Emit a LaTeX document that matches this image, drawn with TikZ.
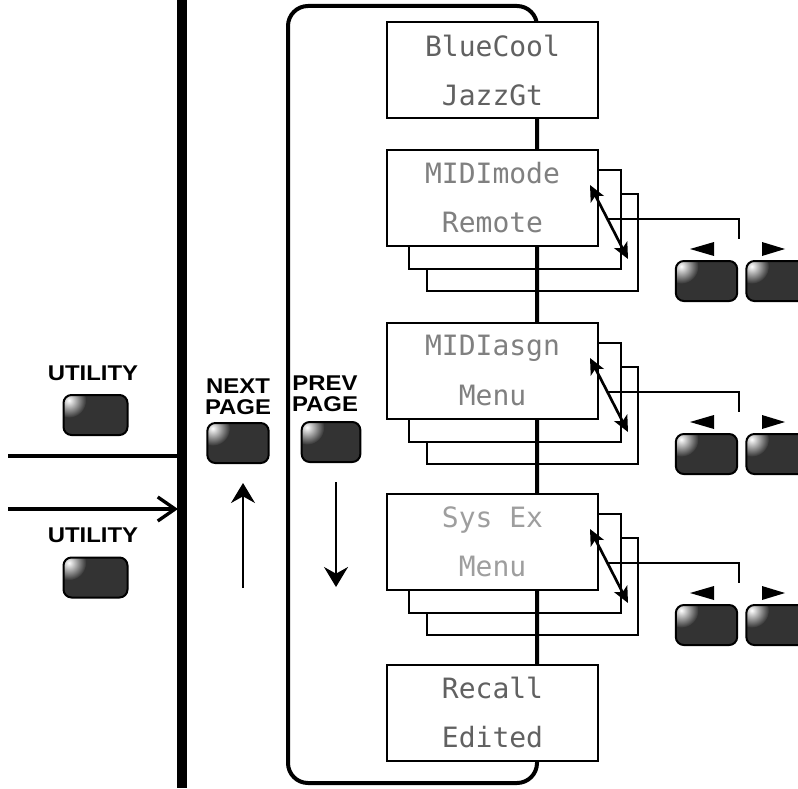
\documentclass[tikz,border=0pt]{standalone}
\usepackage{fontspec}
\setmainfont{Liberation Sans}
\newfontfamily\lcdfont{DejaVu Sans Mono}
\newfontfamily\keyfont{Liberation Sans}[FakeStretch=1.12]
\usetikzlibrary{arrows.meta}

\tikzset{
  display/.style={draw, line width=1.5pt, fill=white, minimum width=158.25pt, minimum height=72pt,
    inner sep=0pt, align=center, font=\lcdfont\fontsize{21}{37}\selectfont},
  ghost/.style={draw, line width=1.5pt, fill=white},
  keycap/.style={draw, line width=1.5pt, rounded corners=6pt, minimum width=46pt, minimum height=30pt,
    path picture={\fill[black!80] (path picture bounding box.south west) rectangle (path picture bounding box.north east);
      \shade[inner color=white, outer color=black!80] ([xshift=4pt,yshift=-4pt]path picture bounding box.north west) circle (13pt);}},
  keylabel/.style={font=\keyfont\bfseries\fontsize{16}{21}\selectfont, align=center, inner sep=0pt},
  wire/.style={line width=1.5pt},
  swap/.style={line width=2pt, {Stealth[length=12pt,width=11pt,inset=3pt]}-{Stealth[length=12pt,width=11pt,inset=3pt]}},
  pager/.style={line width=1.5pt, -{Stealth[length=15pt,width=18pt,inset=5pt]}},
}

\begin{document}
\begin{tikzpicture}[x=0.75pt,y=0.75pt,yscale=-1,xscale=1]
    \useasboundingbox (0,0) rectangle (798,788);
    % main bar and utility lines
    \draw[line width=7pt] (182,0) -- (182,788);
    \coordinate (barA) at (182,456);
    \coordinate (barB) at (178,509);
    \coordinate (inA) at (8,456);
    \coordinate (inB) at (8,509);
    \draw[line width=3.5pt] (inA) -- (barA);
    \draw[line width=3.5pt, -{Straight Barb[length=13pt,width=18pt,line width=2.5pt]}] (inB) -- (barB);
    % Text Node
    \node[keylabel, anchor=base] (util1) at (93,380) {UTILITY};
    \node[keycap, minimum width=48pt] (ukey1) at (95.5,415) {};
    \node[keylabel, anchor=base] (util2) at (93,542) {UTILITY};
    \node[keycap, minimum width=48pt] (ukey2) at (95.5,577.5) {};
    % page keys
    \node[keylabel, anchor=base] (nextlbl) at (238,393) {NEXT};
    \node[keylabel, anchor=base] (nextlbl2) at (238,414) {PAGE};
    \node[keycap] (nextkey) at (238,443) {};
    \node[keylabel, anchor=base] (prevlbl) at (325,390) {PREV};
    \node[keylabel, anchor=base] (prevlbl2) at (325,411) {PAGE};
    \node[keycap, minimum width=44pt] (prevkey) at (331,442) {};
    \coordinate (upS) at (243,588);
    \coordinate (upE) at (243,483);
    \coordinate (dnS) at (336,482);
    \coordinate (dnE) at (336,587);
    \draw[pager] (upS) -- (upE);
    \draw[pager] (dnS) -- (dnE);
    % stacked pages behind the menu displays
    \foreach \t/\n in {149/mode,322/asgn,493/sysx}{
      \draw[ghost] (427,\t+45) rectangle (638,\t+142);
      \draw[ghost] (409,\t+21) rectangle (621,\t+120);
    }
    % page loop
    \draw[line width=3pt, rounded corners=15pt] (288,6) rectangle (537,783);
    % Displays
    \node[display, text=black!62] (blue) at (492.5,70.5) {BlueCool\\JazzGt};
    \node[display, text=black!50] (mode) at (492.5,197.5) {MIDImode\\Remote};
    \node[display, text=black!50] (asgn) at (492.5,370.5) {MIDIasgn\\Menu};
    \node[display, text=black!38] (sysx) at (492.5,541.5) {Sys Ex\\Menu};
    \node[display, text=black!62] (recall) at (492.5,712.5) {Recall\\Edited};
    % value keys
    \foreach \t/\n in {149/mode,322/asgn,493/sysx}{
      \coordinate (a\n) at (590,\t+36);
      \coordinate (b\n) at (628,\t+110);
      \coordinate (c\n) at (739,\t+90);
      \draw[swap] (a\n) -- coordinate[pos=0.46] (m\n) (b\n);
      \draw[wire] (m\n) -| (c\n);
      \fill (690,\t+100) -- (714,\t+93) -- (714,\t+107) -- cycle;
      \fill (785,\t+100) -- (762,\t+93) -- (762,\t+107) -- cycle;
      \node[keycap] (dec\n) at (706.5,\t+132) {};
      \node[keycap] (inc\n) at (777,\t+132) {};
    }
\end{tikzpicture}
\end{document}
